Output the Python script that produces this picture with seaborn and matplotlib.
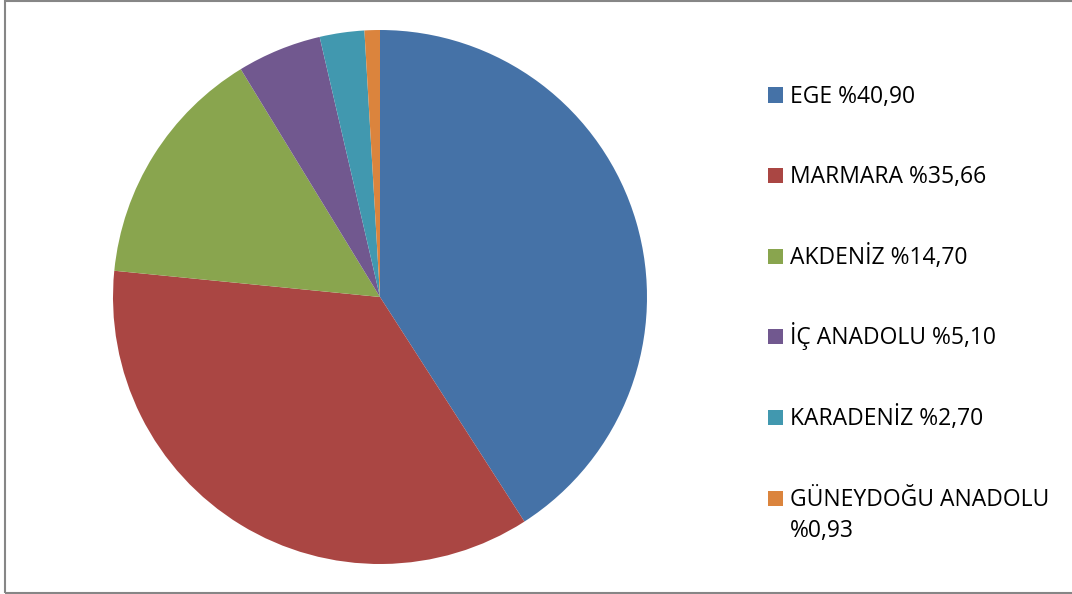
import matplotlib
matplotlib.use("Agg")
import matplotlib.pyplot as plt
from matplotlib.patches import Rectangle
import seaborn as sns

# Regional shares (percent)
regions = ["EGE", "MARMARA", "AKDENİZ", "İÇ ANADOLU", "KARADENİZ", "GÜNEYDOĞU ANADOLU"]
shares = [40.90, 35.66, 14.70, 5.10, 2.70, 0.93]
colors = ["#4572A7", "#AA4643", "#89A54E", "#71588F", "#4198AF", "#DB843D"]

sns.set_theme(style="white")
sns.set_palette(colors)
plt.rcParams["font.family"] = ["Open Sans", "DejaVu Sans"]

W, H = 1072, 594
fig = plt.figure(figsize=(W / 100, H / 100), dpi=100)
fig.patch.set_facecolor("white")

# outer frame
fig.patches.append(Rectangle((5 / W, 1 - 592.5 / H), (W + 10) / W, (591.5) / H,
                             transform=fig.transFigure, fill=False,
                             edgecolor="#868686", linewidth=1.5, zorder=0))

# pie area
cx, cy, r = 380, 297, 267
ax = fig.add_axes([(cx - r) / W, 1 - (cy + r) / H, 2 * r / W, 2 * r / H])
ax.pie(shares, colors=sns.color_palette(colors), startangle=90, counterclock=False,
       wedgeprops=dict(linewidth=0))
ax.set_xlim(-1, 1)
ax.set_ylim(-1, 1)
ax.set_aspect("equal")
ax.axis("off")

# legend entries; long names wrap the value onto a second line
def label_lines(name, v):
    val = f"%{v:.2f}".replace(".", ",")
    if len(name) > 12:
        return [name, val]
    return [f"{name} {val}"]

base0, step, line_h = 102.5, 80.6, 31.7
for i, (name, v, c) in enumerate(zip(regions, shares, colors)):
    base = base0 + i * step
    fig.patches.append(Rectangle((768 / W, 1 - base / H), 15 / W, 15 / H,
                                 transform=fig.transFigure, facecolor=c,
                                 edgecolor="none"))
    for j, line in enumerate(label_lines(name, v)):
        fig.text(790 / W, 1 - (base + j * line_h) / H, line, fontsize=16.5,
                 color="#000000", va="baseline", ha="left")

fig.savefig("out.png", dpi=100)
